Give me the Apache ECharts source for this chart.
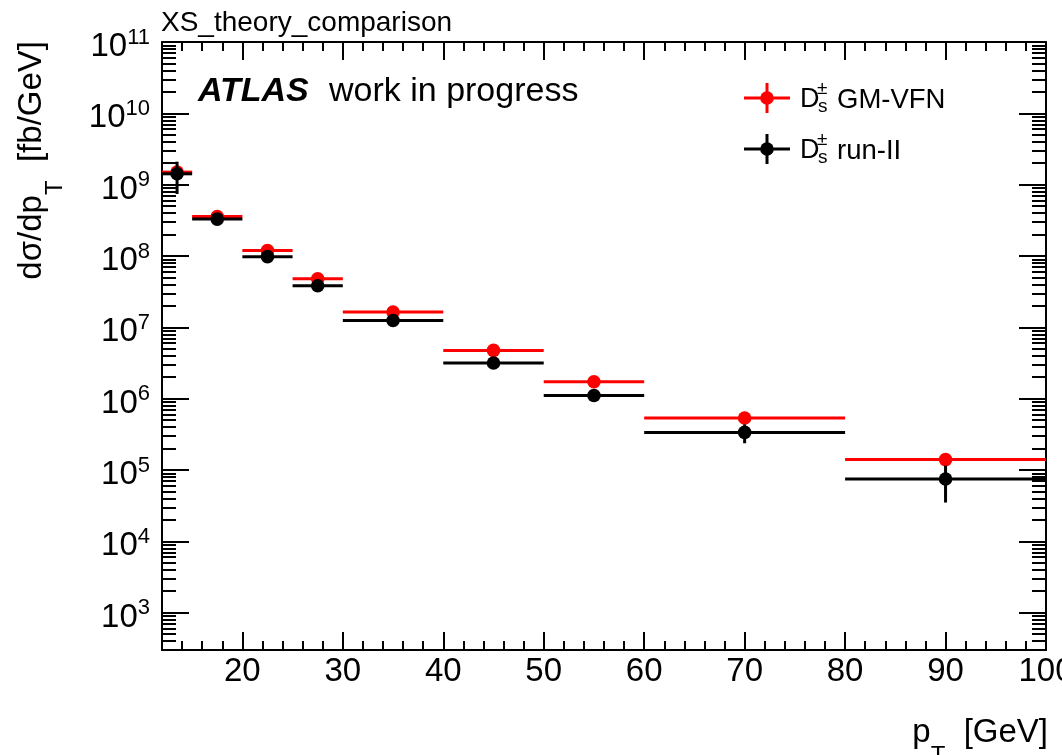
<!DOCTYPE html>
<html>
<head>
<meta charset="utf-8">
<title>XS_theory_comparison</title>
<script src="https://cdn.jsdelivr.net/npm/echarts@6/dist/echarts.min.js"></script>
<style>
  html, body { margin: 0; padding: 0; background: #ffffff; }
  #chart { width: 1062px; height: 755px; }
</style>
</head>
<body>
<div id="chart"></div>
<script>
// pT bins [GeV]
const binLow  = [12, 15, 20, 25, 30, 40, 50, 60, 80];
const binHigh = [15, 20, 25, 30, 40, 50, 60, 80, 100];

// dσ/dpT [fb/GeV]
const gmvfn     = [1.50e9, 3.57e8, 1.19e8, 4.80e7, 1.64e7, 4.75e6, 1.73e6, 5.37e5, 1.40e5];
const gmvfnErr  = [0, 0, 0, 0, 0, 0, 0, 0, 0];
const runII     = [1.42e9, 3.29e8, 9.80e7, 3.83e7, 1.25e7, 3.16e6, 1.11e6, 3.37e5, 7.50e4];
const runIIErr  = [6.8e8, 3.0e7, 1.0e7, 4.0e6, 1.5e6, 5.0e5, 1.5e5, 1.0e5, 4.0e4];

// axis ticks
const xMajorTicks = [20, 30, 40, 50, 60, 70, 80, 90, 100];
const yMajorTicks = [1e3, 1e4, 1e5, 1e6, 1e7, 1e8, 1e9, 1e10, 1e11];
const yMinorTicks = [];
for (let n = 2; n <= 10; n++) {
  for (let k = 2; k <= 9; k++) {
    const v = k * Math.pow(10, n);
    if (v >= 300 && v <= 1e11) yMinorTicks.push(v);
  }
}

const FONT = "'Liberation Sans', Arial, Helvetica, sans-serif";
const X_MIN = 12, X_MAX = 100, Y_MIN = 300, Y_MAX = 1e11;
const gridRect = { left: 162, top: 42, right: 16, bottom: 105 };

function rows(values, errors) {
  return values.map((v, i) => [binLow[i], binHigh[i], v, errors[i]]);
}

function errorBars(color) {
  return function (params, api) {
    const lo = api.value(0), hi = api.value(1), y = api.value(2), e = api.value(3);
    const mid = (lo + hi) / 2;
    const a = api.coord([lo, y]);
    const b = api.coord([hi, y]);
    const c = api.coord([mid, y]);
    const children = [{
      type: 'line',
      shape: { x1: a[0], y1: a[1], x2: b[0], y2: b[1] },
      style: { stroke: color, lineWidth: 3 }
    }];
    if (e > 0) {
      const top = api.coord([mid, y + e]);
      const bot = api.coord([mid, Math.max(y - e, Y_MIN)]);
      children.push({
        type: 'line',
        shape: { x1: top[0], y1: top[1], x2: bot[0], y2: bot[1] },
        style: { stroke: color, lineWidth: 3 }
      });
    }
    children.push({
      type: 'circle',
      shape: { cx: c[0], cy: c[1], r: 6.8 },
      style: { fill: color }
    });
    return { type: 'group', children: children };
  };
}

const frameLine = { show: true, onZero: false, lineStyle: { color: '#000', width: 2 } };
const tickStyle = { color: '#000', width: 2 };

function xAxisCfg(gridIndex, position, major) {
  return {
    type: 'value', gridIndex: gridIndex, position: position,
    min: X_MIN, max: X_MAX,
    interval: major ? undefined : 2,
    splitLine: { show: false },
    axisLine: major ? frameLine : { show: false },
    axisTick: major
      ? { show: true, inside: true, length: 18, lineStyle: tickStyle, customValues: xMajorTicks }
      : { show: true, inside: true, length: 9, lineStyle: tickStyle },
    axisLabel: (major && position === 'bottom')
      ? { show: true, customValues: xMajorTicks, margin: 5, color: '#000',
          fontFamily: FONT, fontSize: 33, hideOverlap: false, showMinLabel: true, showMaxLabel: true }
      : { show: false }
  };
}

function yAxisCfg(gridIndex, position, major) {
  return {
    type: 'log', logBase: 10, gridIndex: gridIndex, position: position,
    min: Y_MIN, max: Y_MAX,
    splitLine: { show: false },
    axisLine: major ? frameLine : { show: false },
    axisTick: major
      ? { show: true, inside: true, length: 27, lineStyle: tickStyle, customValues: yMajorTicks }
      : { show: true, inside: true, length: 14, lineStyle: tickStyle, customValues: yMinorTicks },
    axisLabel: (major && position === 'left')
      ? {
          show: true, customValues: yMajorTicks, margin: 12, align: 'right',
          color: '#000', fontFamily: FONT, hideOverlap: false,
          formatter: function (v) {
            return '{b|10}{s|' + Math.round(Math.log10(v)) + '}';
          },
          rich: {
            b: { fontFamily: FONT, fontSize: 33, lineHeight: 30, padding: [10, 0, 0, 0], color: '#000' },
            s: { fontFamily: FONT, fontSize: 22, lineHeight: 21, padding: [0, 0, 9, 0], color: '#000' }
          }
        }
      : { show: false }
  };
}

const txt = { fontFamily: FONT, fill: '#000' };

function legendEntry(color, y, label) {
  return [
    { type: 'line', shape: { x1: 744, y1: y, x2: 790, y2: y }, style: { stroke: color, lineWidth: 3 } },
    { type: 'line', shape: { x1: 767, y1: y - 15, x2: 767, y2: y + 15 }, style: { stroke: color, lineWidth: 3 } },
    { type: 'circle', shape: { cx: 767, cy: y, r: 6.8 }, style: { fill: color } },
    { type: 'text', x: 800, y: y + 2, style: Object.assign({ text: 'D', fontSize: 27, align: 'left', verticalAlign: 'middle' }, txt) },
    { type: 'text', x: 817, y: y - 9, style: Object.assign({ text: '±', fontSize: 19, align: 'left', verticalAlign: 'middle' }, txt) },
    { type: 'text', x: 818, y: y + 9, style: Object.assign({ text: 's', fontSize: 19, align: 'left', verticalAlign: 'middle' }, txt) },
    { type: 'text', x: 837, y: y + 2, style: Object.assign({ text: label, fontSize: 27.5, align: 'left', verticalAlign: 'middle' }, txt) }
  ];
}

const titleRich = {
  m: { fontFamily: FONT, fontSize: 33, lineHeight: 36, verticalAlign: 'top', color: '#000' },
  sub: { fontFamily: FONT, fontSize: 24, lineHeight: 24, padding: [28, 0, 0, 0], verticalAlign: 'top', color: '#000' }
};

const chart = echarts.init(document.getElementById('chart'), null, { renderer: 'canvas' });

chart.setOption({
  animation: false,
  backgroundColor: '#ffffff',
  grid: [
    Object.assign({ containLabel: false, outerBoundsMode: 'none' }, gridRect),
    Object.assign({ containLabel: false, outerBoundsMode: 'none' }, gridRect)
  ],
  xAxis: [
    xAxisCfg(0, 'bottom', true),
    xAxisCfg(0, 'top', true),
    xAxisCfg(1, 'bottom', false),
    xAxisCfg(1, 'top', false)
  ],
  yAxis: [
    yAxisCfg(0, 'left', true),
    yAxisCfg(0, 'right', true),
    yAxisCfg(1, 'left', false),
    yAxisCfg(1, 'right', false)
  ],
  series: [
    {
      name: 'GM-VFN', type: 'custom', xAxisIndex: 0, yAxisIndex: 0,
      encode: { x: [0, 1], y: 2 },
      renderItem: errorBars('#ff0000'),
      data: rows(gmvfn, gmvfnErr), z: 2
    },
    {
      name: 'run-II', type: 'custom', xAxisIndex: 0, yAxisIndex: 0,
      encode: { x: [0, 1], y: 2 },
      renderItem: errorBars('#000000'),
      data: rows(runII, runIIErr), z: 3
    }
  ],
  graphic: [
    { type: 'text', x: 161, y: 23, style: Object.assign({ text: 'XS_theory_comparison', fontSize: 28, align: 'left', verticalAlign: 'middle' }, txt) },
    { type: 'text', x: 198, y: 92, style: Object.assign({ text: 'ATLAS', fontSize: 34, fontWeight: 'bold', fontStyle: 'italic', align: 'left', verticalAlign: 'middle' }, txt) },
    { type: 'text', x: 329, y: 92, style: Object.assign({ text: 'work in progress', fontSize: 34, align: 'left', verticalAlign: 'middle' }, txt) },
    {
      type: 'text', x: 1048, y: 734,
      style: { text: '{m|p}{sub|T}{m|  [GeV]}', rich: titleRich, align: 'right', verticalAlign: 'middle', fontFamily: FONT }
    },
    {
      type: 'text', x: 33, y: 41, rotation: Math.PI / 2,
      style: { text: '{m|dσ/dp}{sub|T}{m|  [fb/GeV]}', rich: titleRich, align: 'right', verticalAlign: 'middle', fontFamily: FONT }
    }
  ].concat(legendEntry('#ff0000', 98, 'GM-VFN'), legendEntry('#000000', 149, 'run-II'))
});
</script>
</body>
</html>
